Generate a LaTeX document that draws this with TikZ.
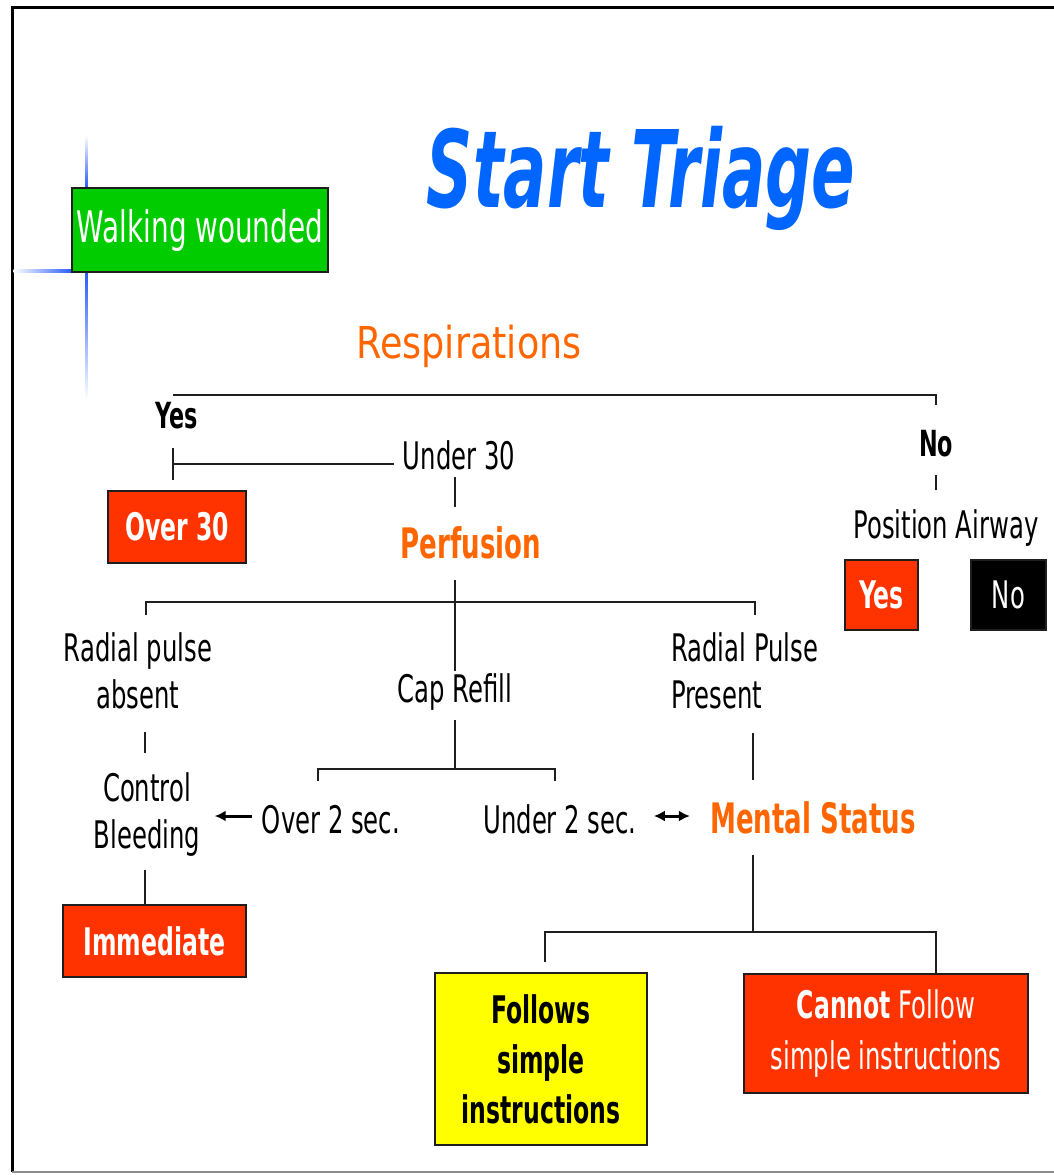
\documentclass[tikz,border=0pt]{standalone}
\usepackage{fontspec}
\usetikzlibrary{arrows.meta}
\setmainfont{DejaVu Sans}
\newfontfamily\fR[FakeStretch=0.64]{DejaVu Sans}
\newfontfamily\fB[FakeStretch=0.62]{DejaVu Sans}
\newfontfamily\fO[FakeStretch=0.83]{DejaVu Sans}
\newfontfamily\fT[FakeStretch=0.60]{DejaVu Sans}
\definecolor{tred}{RGB}{255,51,0}
\definecolor{torange}{RGB}{255,102,0}
\definecolor{tgreen}{RGB}{0,204,0}
\definecolor{tblue}{RGB}{0,102,255}
\definecolor{tyellow}{RGB}{255,255,0}
\definecolor{tline}{RGB}{30,30,30}
\definecolor{flare}{RGB}{40,90,255}
\tikzset{
  lbl/.style={inner sep=0pt, text=black, font=\fR\fontsize{38}{47}\selectfont},
  blbl/.style={inner sep=0pt, text=black, font=\fB\bfseries\fontsize{36}{44}\selectfont},
  olbl/.style={inner sep=0pt, text=torange, font=\fB\bfseries\fontsize{42}{48}\selectfont},
  tbox/.style={draw=tline, line width=2.4pt, inner sep=0pt, text=white,
               font=\fB\bfseries\fontsize{38}{47}\selectfont},
  conn/.style={draw=tline, line width=2.4pt},
  arr/.style={draw=black, line width=3pt, -{Latex[length=11pt,width=11pt]}},
  darr/.style={draw=black, line width=3pt, {Latex[length=11pt,width=11pt]}-{Latex[length=11pt,width=11pt]}}
}
\begin{document}
\begin{tikzpicture}[x=1pt,y=-1pt]
\useasboundingbox (0,0) rectangle (1054,1175);
\fill[white] (0,0) rectangle (1054,1175);
% frame
\draw[line width=3pt, black] (12,1172) -- (12,7) -- (1054,7);
\draw[line width=2pt, black!45] (12,1172) -- (1054,1172);
% blue flare
\shade[top color=white, bottom color=flare] (85.5,135) rectangle (87.5,188);
\shade[top color=flare, bottom color=white] (85.5,272) rectangle (87.5,400);
\shade[left color=white, right color=flare] (13.5,269.5) rectangle (72,272.5);

% title
\node[inner sep=0pt, anchor=base, text=tblue, font=\fT\bfseries\itshape\fontsize{107}{107}\selectfont] (title) at (641,207) {Start Triage};

% walking wounded
\node[tbox, fill=tgreen, font=\fR\fontsize{43.5}{47}\selectfont, minimum width=256pt, minimum height=84pt] (walk) at (200,230) {Walking wounded};

% respirations
\node[inner sep=0pt, anchor=base, text=torange, font=\fO\fontsize{44}{44}\selectfont] (resp) at (469,358) {Respirations};
\coordinate (rl) at (173,395);
\coordinate (rr) at (936,395);
\draw[conn] (rl) -- (rr) -- ++(0,10);

\node[blbl, anchor=base] (yes) at (177,428) {Yes};
\node[blbl, anchor=base] (no) at (936,456) {No};
\node[lbl, anchor=base] (pa) at (946,538) {Position Airway};
\draw[conn] (936,475) -- (936,490);
\node[tbox, fill=tred, minimum width=73pt, minimum height=70pt] (pyes) at (881.5,595) {Yes};
\node[tbox, fill=black, font=\fR\fontsize{38}{47}\selectfont, minimum width=75pt, minimum height=70pt] (pno) at (1008.5,595) {No};

% under 30 / over 30
\node[lbl, anchor=base] (u30) at (459,469) {Under 30};
\draw[conn] (173,448) -- (173,480);
\draw[conn] (173,464) -- ([xshift=-9pt]u30.west |- 0,464);
\node[tbox, fill=tred, minimum width=138pt, minimum height=72pt] (o30) at (177,527) {Over 30};
\draw[conn] (455,477) -- (455,507);

% perfusion
\node[olbl, anchor=base] (perf) at (471,558) {Perfusion};
\coordinate (pl) at (146,602);
\coordinate (pr) at (755,602);
\draw[conn] (455,580) -- (455,671);
\draw[conn] ([yshift=-13pt]pl) -- (pl) -- (pr) -- ([yshift=-13pt]pr);

\node[lbl, align=center] (rpa) at (138,671) {Radial pulse\\absent};
\node[lbl, align=center, anchor=base] (cap) at (455,702) {Cap Refill};
\node[lbl, align=left, anchor=west] (rpp) at (671,671) {Radial Pulse\\Present};

\draw[conn] (145,732) -- (145,753);
\node[lbl, align=center] (cb) at (147,815) {Control\\Bleeding};
\draw[conn] (145,870) -- (145,905);
\node[tbox, fill=tred, minimum width=183pt, minimum height=72pt] (imm) at (154.5,941) {Immediate};

% cap refill bracket
\draw[conn] (455,720) -- (455,769);
\draw[conn] (318,781) -- (318,769) -- (555,769) -- (555,781);
\node[lbl, anchor=base] (o2) at (331,833) {Over 2 sec.};
\node[lbl, anchor=base] (u2) at (560,833) {Under 2 sec.};
\draw[arr] ([xshift=-10pt,yshift=17pt]o2.base west) -- ++(-37,0);

% mental status
\draw[conn] (753,733) -- (753,780);
\node[olbl, anchor=base] (ms) at (813,833) {Mental Status};
\draw[darr] ([xshift=17pt,yshift=17pt]u2.base east) -- ++(36,0);
\draw[conn] (753,855) -- (753,932);
\draw[conn] (545,962) -- (545,932) -- (936,932) -- (936,974);

\node[tbox, fill=tyellow, text=black, align=center, font=\fB\bfseries\fontsize{38}{50}\selectfont,
      minimum width=212pt, minimum height=172pt] (fol) at (541,1059) {Follows\\simple\\instructions};
\node[tbox, fill=tred, align=center, font=\fR\fontsize{38}{51}\selectfont,
      minimum width=284pt, minimum height=119pt] (cnf) at (886,1033.5) {{\fB\bfseries Cannot} Follow\\simple instructions};
\end{tikzpicture}
\end{document}
